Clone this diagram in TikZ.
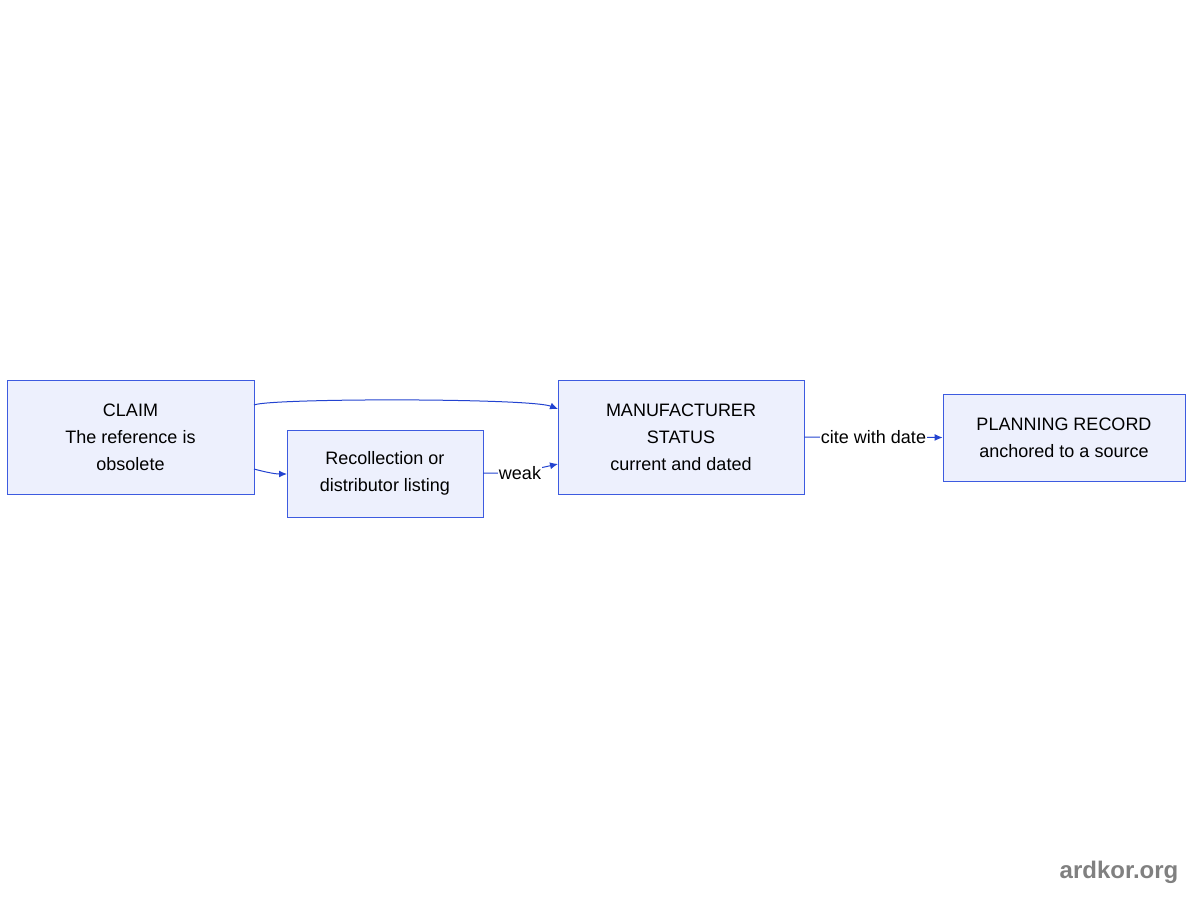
\documentclass[tikz,border=0pt]{standalone}
\usepackage{fontspec}
\setmainfont{Liberation Sans}
\usetikzlibrary{arrows.meta}
\definecolor{boxfill}{HTML}{EDF0FD}
\definecolor{boxline}{HTML}{3D5BE0}
\definecolor{edgecol}{HTML}{2343D0}
\definecolor{wmark}{HTML}{808080}
\begin{document}
\begin{tikzpicture}[x=1pt,y=-1pt,
  box/.style={draw=boxline, fill=boxfill, line width=0.9pt, align=center,
    inner sep=0pt, font=\fontsize{18}{27}\selectfont, text=black},
  edge/.style={draw=edgecol, line width=1pt, -{Latex[length=8pt,width=7pt]}},
  elabel/.style={fill=white, inner sep=0.5pt, font=\fontsize{18}{20}\selectfont, text=black}]
\useasboundingbox (0,0) rectangle (1200,900);
\node[box, minimum width=247pt, minimum height=114pt] (claim) at (130.5,437) {CLAIM\\The reference is\\obsolete};
\node[box, minimum width=196pt, minimum height=87pt] (rec) at (385,473.5) {Recollection or\\distributor listing};
\node[box, minimum width=246pt, minimum height=114pt] (man) at (681,437) {MANUFACTURER\\STATUS\\current and dated};
\node[box, minimum width=242pt, minimum height=87pt] (plan) at (1064,437.5) {PLANNING RECORD\\anchored to a source};
\coordinate (c1) at (254,405);
\coordinate (m1) at (558,409);
\coordinate (c2) at (254,469);
\coordinate (r1) at (287,474);
\coordinate (r2) at (483,473);
\coordinate (m2) at (558,464);
\draw[edge] (c1) .. controls (270,398) and (530,398) .. (m1);
\draw[edge] (c2) .. controls (265,472) and (275,474) .. (r1);
\draw[edge] (r2) -- (500,473) -- (540,468) -- (m2);
\node[elabel] (weak) at (520,473) {weak};
\draw[edge] (man.east) -- (plan.west);
\node[elabel] (cite) at (873.5,437) {cite with date};
\node[font=\bfseries\fontsize{24}{28}\selectfont, text=wmark] (wm) at (1119,872) {ardkor.org};
\end{tikzpicture}
\end{document}
